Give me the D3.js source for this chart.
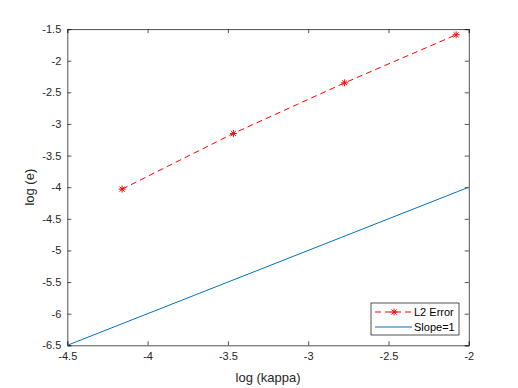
<!DOCTYPE html>
<html>
<head>
<meta charset="utf-8">
<script src="https://cdn.jsdelivr.net/npm/d3@7"></script>
<style>
body { margin: 0; background: #fff; }
text { font-family: "Liberation Sans", Helvetica, Arial, sans-serif; }
</style>
</head>
<body>
<script>
// data
let logKappa = [-4.159, -3.466, -2.773, -2.079];
let logErr = [-4.03, -3.15, -2.35, -1.59];
let slopeX = [-4.5, -2];
let slopeY = [-6.5, -4.0];
let xTicks = [-4.5, -4, -3.5, -3, -2.5, -2];
let yTicks = [-6.5, -6, -5.5, -5, -4.5, -4, -3.5, -3, -2.5, -2, -1.5];

let W = 518, H = 388;
let margin = {left: 67.3, right: 49.2, top: 29.1, bottom: 42.7};
let w = W - margin.left - margin.right;
let h = H - margin.top - margin.bottom;
let axisCol = "#262626";

let svg = d3.select("body").append("svg").attr("width", W).attr("height", H);
let g = svg.append("g").attr("transform", "translate(" + margin.left + "," + margin.top + ")");

let x = d3.scaleLinear().domain([-4.5, -2]).range([0, w]);
let y = d3.scaleLinear().domain([-6.5, -1.5]).range([h, 0]);

let fmt = d => String(d);

// axes with inward ticks, on all four sides
let xAxis = g.append("g").attr("transform", "translate(0," + h + ")")
  .call(d3.axisBottom(x).tickValues(xTicks).tickSize(-4).tickPadding(7).tickFormat(fmt));
let xTop = g.append("g")
  .call(d3.axisTop(x).tickValues(xTicks).tickSize(-4).tickFormat(""));
let yAxis = g.append("g")
  .call(d3.axisLeft(y).tickValues(yTicks).tickSize(-4).tickPadding(6).tickFormat(fmt));
let yRight = g.append("g").attr("transform", "translate(" + w + ",0)")
  .call(d3.axisRight(y).tickValues(yTicks).tickSize(-4).tickFormat(""));

[xAxis, xTop, yAxis, yRight].forEach(a => {
  a.select(".domain").attr("stroke", axisCol).attr("stroke-width", 0.8);
  a.selectAll(".tick line").attr("stroke", axisCol).attr("stroke-width", 0.8);
  a.selectAll("text").attr("fill", axisCol).attr("font-size", 11)
    .attr("font-family", "'Liberation Sans', Helvetica, Arial, sans-serif");
});

// slope = 1 reference
let line = d3.line().x(d => x(d[0])).y(d => y(d[1]));
g.append("path")
  .datum(d3.zip(slopeX, slopeY))
  .attr("d", line).attr("fill", "none")
  .attr("stroke", "#0072BD").attr("stroke-width", 1);

// L2 error
let errData = d3.zip(logKappa, logErr);
g.append("path")
  .datum(errData)
  .attr("d", line).attr("fill", "none")
  .attr("stroke", "#ff0000").attr("stroke-width", 1)
  .attr("stroke-dasharray", "6,4");

function star(sel, cx, cy, r) {
  let s = sel.append("g").attr("transform", "translate(" + cx + "," + cy + ")")
    .attr("stroke", "#ff0000").attr("stroke-width", 1);
  s.append("line").attr("x1", -r).attr("x2", r);
  s.append("line").attr("y1", -r).attr("y2", r);
  let k = r * 0.72;
  s.append("line").attr("x1", -k).attr("y1", -k).attr("x2", k).attr("y2", k);
  s.append("line").attr("x1", -k).attr("y1", k).attr("x2", k).attr("y2", -k);
}
errData.forEach(d => star(g, x(d[0]), y(d[1]), 3.5));

// axis labels
svg.append("text").attr("x", margin.left + w / 2).attr("y", 382)
  .attr("text-anchor", "middle").attr("font-size", 13).attr("fill", axisCol)
  .text("log (kappa)");
svg.append("text")
  .attr("transform", "translate(34," + (margin.top + h / 2) + ") rotate(-90)")
  .attr("text-anchor", "middle").attr("font-size", 13).attr("fill", axisCol)
  .text("log (e)");

// legend
let lg = svg.append("g").attr("transform", "translate(371,303)");
lg.append("rect").attr("width", 88).attr("height", 32)
  .attr("fill", "#fff").attr("stroke", axisCol).attr("stroke-width", 0.8);
lg.append("line").attr("x1", 4).attr("x2", 41).attr("y1", 9).attr("y2", 9)
  .attr("stroke", "#ff0000").attr("stroke-dasharray", "6,4");
star(lg, 23, 9, 3.5);
lg.append("line").attr("x1", 4).attr("x2", 41).attr("y1", 24).attr("y2", 24)
  .attr("stroke", "#0072BD");
lg.append("text").attr("x", 43).attr("y", 13).attr("font-size", 11)
  .attr("fill", "#000").text("L2 Error");
lg.append("text").attr("x", 43).attr("y", 28).attr("font-size", 11)
  .attr("fill", "#000").text("Slope=1");
</script>
</body>
</html>
